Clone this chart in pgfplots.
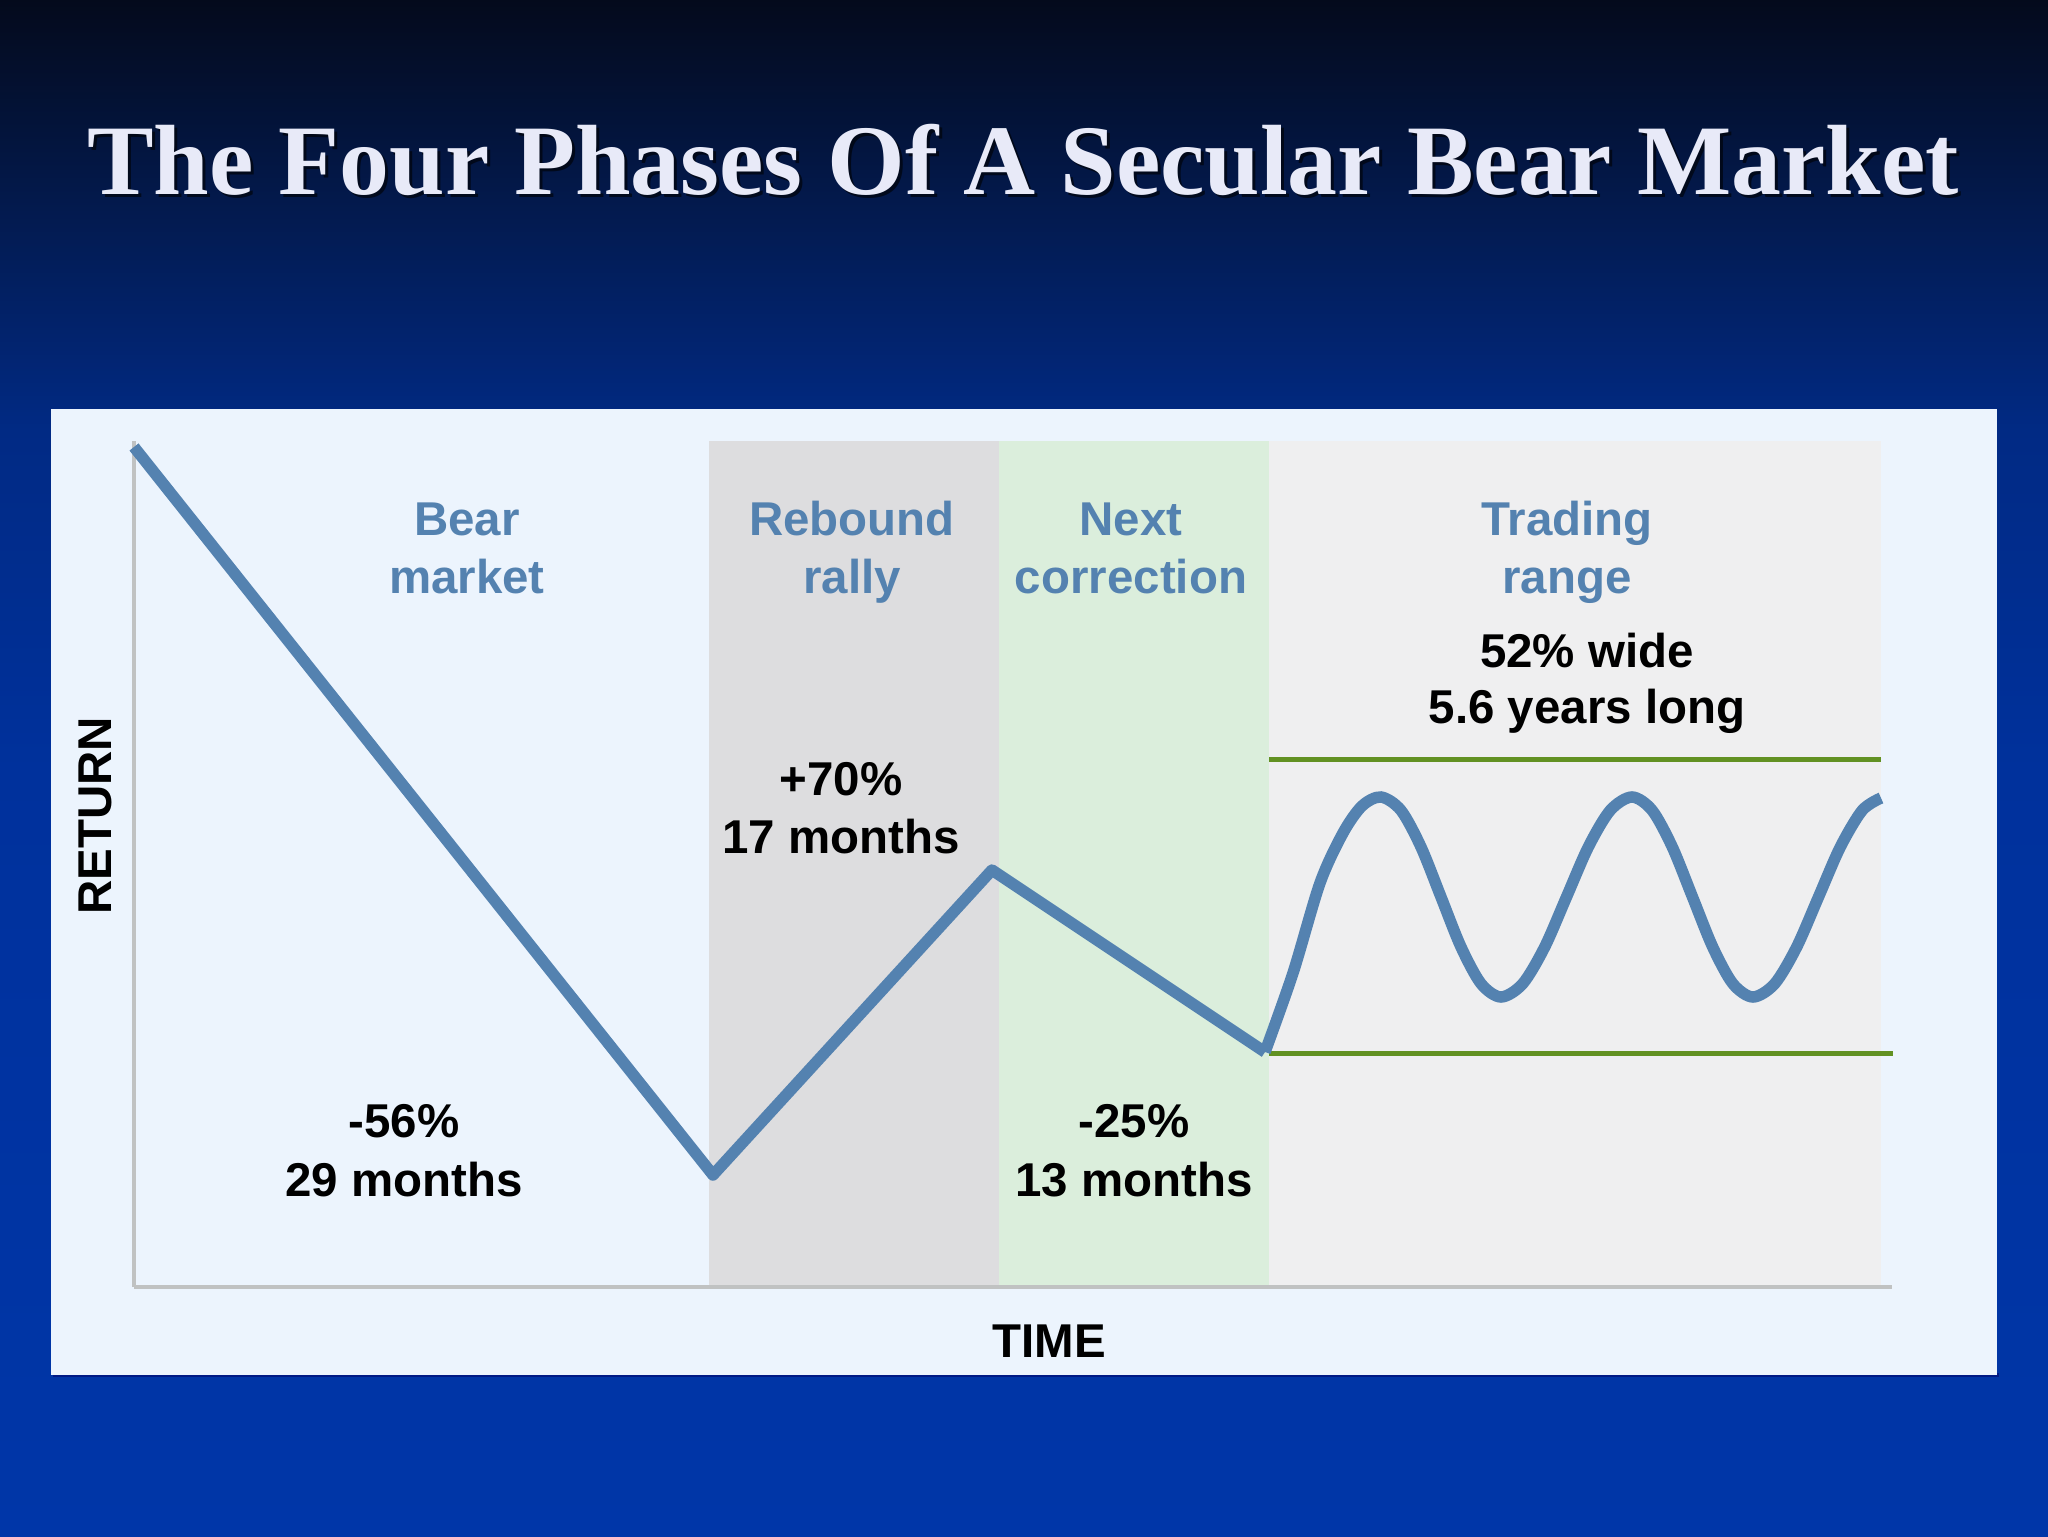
\documentclass[border=0pt]{standalone}
\usepackage{pgfplots}
\pgfplotsset{compat=1.18}
\usepackage{fontspec}
\setmainfont{Liberation Sans}
\newfontfamily\titlefont{Liberation Serif}

\definecolor{bgtop}{HTML}{040A1C}
\definecolor{bgupper}{HTML}{031848}
\definecolor{bgmid}{HTML}{012A84}
\definecolor{bglow}{HTML}{00319C}
\definecolor{bgbot}{HTML}{0036A8}
\definecolor{panel}{RGB}{236,244,253}
\definecolor{rallygray}{RGB}{221,221,223}
\definecolor{corrgreen}{RGB}{219,238,220}
\definecolor{rangegray}{RGB}{239,239,240}
\definecolor{pathblue}{RGB}{84,130,176}
\definecolor{bandgreen}{RGB}{98,145,34}
\definecolor{axisgray}{RGB}{192,194,194}
\definecolor{titlewhite}{RGB}{232,234,248}

% tikz stretches the 25bp..75bp part of a declared shading over the path
\pgfdeclareverticalshading{slidebg}{100bp}{color(0bp)=(bgbot); color(25bp)=(bgbot); color(50bp)=(bglow); color(61bp)=(bgmid); color(69bp)=(bgupper); color(75bp)=(bgtop); color(100bp)=(bgtop)}

% sizes: 1 unit = 1 px of the 2048x1536 slide
\newcommand{\lbl}{\fontsize{13.5pt}{16pt}\selectfont\bfseries}

\begin{document}
\begin{tikzpicture}[x=0.1mm,y=0.1mm]
% slide background
\shade[shading=slidebg] (0,0) rectangle (2048,1536);
% title
\node[anchor=base, text=black, opacity=0.6] at (1026,1338)
  {\titlefont\fontsize{28.4pt}{30pt}\selectfont\bfseries The Four Phases Of A Secular Bear Market};
\node[anchor=base, text=titlewhite] at (1023,1341)
  {\titlefont\fontsize{28.4pt}{30pt}\selectfont\bfseries The Four Phases Of A Secular Bear Market};
% panel
\fill[black!60!blue, opacity=0.5] (53,159) rectangle (1999,163);
\fill[panel] (51,161) rectangle (1997,1127);

\begin{axis}[
    at={(13.4mm,24.9mm)}, anchor=south west,
    scale only axis, width=175.8mm, height=84.6mm,
    xmin=0, xmax=1758, ymin=0, ymax=846,
    axis lines=left,
    axis line style={-, draw=axisgray, line width=0.4mm},
    xtick=\empty, ytick=\empty,
    clip=false,
    xlabel={\lbl TIME},
    ylabel={\lbl RETURN},
    xlabel style={at={(axis cs:915,-70)}, anchor=base},
    ylabel style={at={(axis cs:-39,471)}, anchor=center},
]
% phase backgrounds
\addplot[fill=rallygray, draw=none] coordinates {(575,2) (575,846) (865,846) (865,2)} -- cycle;
\addplot[fill=corrgreen, draw=none] coordinates {(865,2) (865,846) (1135,846) (1135,2)} -- cycle;
\addplot[fill=rangegray, draw=none] coordinates {(1135,2) (1135,846) (1747,846) (1747,2)} -- cycle;
% trading range band
\addplot[bandgreen, line width=0.5mm] coordinates {(1135,528) (1747,528)};
\addplot[bandgreen, line width=0.5mm] coordinates {(1135,234) (1759,234)};
% bear, rally, correction
\addplot[pathblue, line width=1.15mm, line join=round] coordinates {
  (0,840) (579,112) (858,417) (1131,235)};
% trading range swings
\addplot[pathblue, line width=1.15mm, smooth] coordinates {
  (1131,235) (1159,314) (1186,404) (1209,454) (1228,481) (1247,490)
  (1267,476.6) (1287,440) (1307,390) (1327,340) (1347,303.4) (1367,290)
  (1388.8,303.4) (1410.7,340) (1432.5,390) (1454.3,440) (1476.2,476.6) (1498,490)
  (1518.2,476.6) (1538.3,440) (1558.5,390) (1578.7,340) (1598.8,303.4) (1619,290)
  (1640.8,303.4) (1662.7,340) (1684.5,390) (1706.3,440) (1728.2,476.6) (1747,489)};

% phase names
\begin{scope}[every node/.style={anchor=base, text=pathblue, font=\lbl}]
\node at (axis cs:333,752) {Bear};
\node at (axis cs:333,694) {market};
\node at (axis cs:718,752) {Rebound};
\node at (axis cs:718,694) {rally};
\node at (axis cs:997,752) {Next};
\node at (axis cs:997,694) {correction};
\node at (axis cs:1433,752) {Trading};
\node at (axis cs:1433,694) {range};
\end{scope}
% phase figures
\begin{scope}[every node/.style={anchor=base, text=black, font=\lbl}]
\node at (axis cs:1453,620) {52\% wide};
\node at (axis cs:1453,564) {5.6 years long};
\node at (axis cs:707,492) {+70\%};
\node at (axis cs:707,434) {17 months};
\node at (axis cs:270,150) {-56\%};
\node at (axis cs:270,91) {29 months};
\node at (axis cs:1000,150) {-25\%};
\node at (axis cs:1000,91) {13 months};
\end{scope}
\end{axis}
\end{tikzpicture}
\end{document}
